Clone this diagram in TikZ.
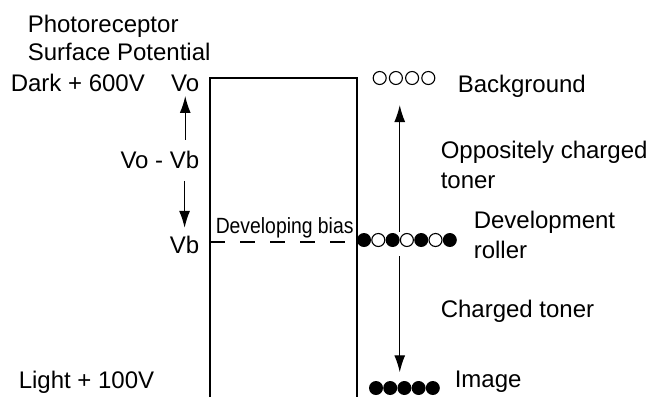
\documentclass[tikz,border=0pt]{standalone}
\usepackage{fontspec}
\setmainfont{Liberation Sans}
\usetikzlibrary{arrows.meta,calc}
\tikzstyle{txt} = [anchor=base west, inner sep=0pt, font=\fontsize{24}{30}\selectfont]
\tikzstyle{tonerfull} = [circle, minimum size=14pt, fill, inner sep=0pt]
\tikzstyle{tonerhollow} = [circle, minimum size=13pt, draw, line width=1.1pt, inner sep=0pt]
\tikzstyle{arr} = [-{Latex[length=17pt,width=11pt]}, line width=1.3pt]

\begin{document}
\begin{tikzpicture}[x=1pt,y=-1pt,line width=1.5pt]
\useasboundingbox (0,0) rectangle (652,397);

% left hand labels
\node[txt] (photo) at (27,32) {Photoreceptor};
\node[txt] (surf) at (27,60) {Surface Potential};
\node[txt] (dark) at (10,91) {Dark + 600V};
\node[txt] (light) at (18,388) {Light + 100V};
\node[txt,anchor=base east] (vo) at (200,91) {Vo};
\node[txt,anchor=base east] (vovb) at (200,168) {Vo - Vb};
\node[txt,anchor=base east] (vb) at (200,253) {Vb};

\draw[arr, shorten <=10pt, shorten >=4pt] (vovb.north -| vo.south) -- (vo.south);
\draw[arr, shorten <=12pt, shorten >=7pt] (vovb.south -| vb.north) -- (vb.north);

% photoreceptor potential
\coordinate (bl) at (210,397);
\coordinate (tl) at (210,78);
\coordinate (tr) at (357,78);
\coordinate (br) at (357,397);
\draw (bl) -- (tl) -- (tr) -- (br);
\coordinate (biasl) at (210,242);
\coordinate (biasr) at (357,242);
\draw[line width=1.3pt, dash pattern=on 15pt off 15pt] (biasl) -- (biasr);
\node[anchor=base west, inner sep=0pt, font=\fontsize{22}{26}\selectfont] (bias) at (215,233) {\scalebox{0.88}[1]{Developing bias}};

% toner particles
\foreach \i in {1,...,4}
    \node[tonerhollow] (bg\i) at (363.5+16.2*\i,78) {};
\foreach \i in {0,...,6} {
    \pgfmathparse{mod(\i,2)==0 ? "tonerfull" : "tonerhollow"}
    \node[\pgfmathresult] (rol\i) at (364+14.3*\i,240) {};
}
\foreach \i in {0,...,4}
    \node[tonerfull] (img\i) at (376+14.2*\i,388) {};

\coordinate (upfoot) at ($(rol3.north)!0.5!(rol2.north)$);
\coordinate (downfoot) at ($(rol3.south)!0.5!(rol2.south)$);
\draw[arr, shorten <=1pt, shorten >=20pt] (upfoot) -- (upfoot |- bg2.south);
\draw[arr, shorten <=9pt, shorten >=8pt] (downfoot) -- (downfoot |- img1.north);

% right hand labels
\node[txt] (bgtxt) at (457,92) {Background};
\node[txt, align=left] (opp) at (440,188) {Oppositely charged\\toner};
\node[txt, align=left] (dev) at (473,258) {Development\\roller};
\node[txt] (chg) at (440,317) {Charged toner};
\node[txt] (imgtxt) at (454,387) {Image};
\end{tikzpicture}
\end{document}
